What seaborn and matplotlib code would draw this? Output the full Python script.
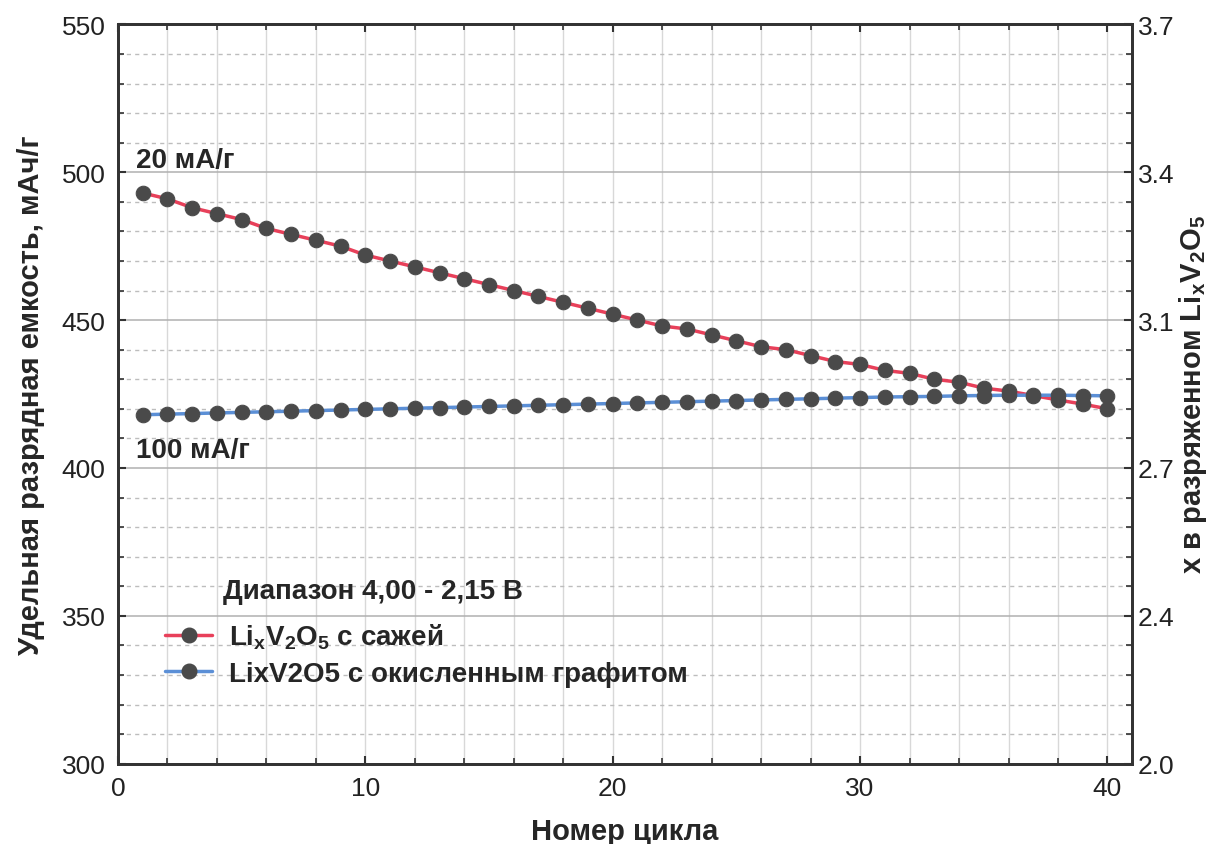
import numpy as np
import pandas as pd
import matplotlib
matplotlib.use("Agg")
import matplotlib.pyplot as plt
import seaborn as sns
from matplotlib.ticker import MultipleLocator, FixedLocator

# data
cycles = list(range(1, 41))
soot = [493, 491, 488, 486, 484, 481, 479, 477, 475, 472,
        470, 468, 466, 464, 462, 460, 458, 456, 454, 452,
        450, 448, 447, 445, 443, 441, 440, 438, 436, 435,
        433, 432, 430, 429, 427, 426, 424.5, 423, 421.6, 420]
graphite = [418.0, 418.2, 418.4, 418.6, 418.8, 419.0, 419.2, 419.4, 419.6, 419.8,
            420.0, 420.2, 420.4, 420.6, 420.8, 421.0, 421.2, 421.4, 421.6, 421.8,
            422.0, 422.2, 422.4, 422.6, 422.8, 423.0, 423.2, 423.4, 423.6, 423.8,
            424.0, 424.1, 424.2, 424.4, 424.5, 424.6, 424.6, 424.6, 424.5, 424.4]
right_ticks = [300, 350, 400, 450, 500, 550]
right_labels = ["2.0", "2.4", "2.7", "3.1", "3.4", "3.7"]

lbl_soot = r"$\mathbf{Li_xV_2O_5}$ с сажей"
lbl_graph = "LixV2O5 с окисленным графитом"

df = pd.DataFrame({
    "cycle": cycles * 2,
    "cap": soot + graphite,
    "series": [lbl_soot] * 40 + [lbl_graph] * 40,
})

sns.set_style("ticks")
plt.rcParams["font.family"] = ["Liberation Sans", "DejaVu Sans"]
plt.rcParams["mathtext.fontset"] = "custom"
plt.rcParams["mathtext.rm"] = "Liberation Sans"
plt.rcParams["mathtext.bf"] = "Liberation Sans:bold"
plt.rcParams["mathtext.it"] = "Liberation Sans:italic"

fig, ax = plt.subplots(figsize=(12.28, 8.45), dpi=100)
fig.subplots_adjust(left=0.096, right=0.922, top=0.970, bottom=0.095)

red, blue, dot = "#e8405a", "#5b8fd6", "#4a4a4a"
sns.lineplot(data=df, x="cycle", y="cap", hue="series",
             palette=[red, blue], marker="o", markersize=10.5,
             markerfacecolor=dot, markeredgecolor=dot,
             linewidth=2.5, ax=ax, legend=False, zorder=3)

ax.set_xlim(0, 41)
ax.set_ylim(300, 550)
ax.xaxis.set_major_locator(MultipleLocator(10))
ax.xaxis.set_minor_locator(MultipleLocator(2))
ax.yaxis.set_major_locator(MultipleLocator(50))
ax.yaxis.set_minor_locator(MultipleLocator(10))
ax.grid(which="major", axis="y", color="#b0b0b0", lw=1.1, ls="-")
ax.grid(which="minor", axis="y", color="#bdbdbd", lw=1.0, ls=(0, (3, 3)))
ax.grid(which="both", axis="x", color="#d8d8d8", lw=1.0, ls="-")
ax.tick_params(which="both", direction="in", top=True, labelsize=19,
               colors="#333333", labelcolor="#222222")
ax.tick_params(which="major", length=6, width=1.5, pad=9)
ax.tick_params(which="minor", length=4, width=1.2)
for s in ax.spines.values():
    s.set_color("#333333")
    s.set_linewidth(2)

ax.set_xlabel("Номер цикла", fontsize=21, fontweight="bold", labelpad=12)
ax.set_ylabel("Удельная разрядная емкость, мАч/г", fontsize=21,
              fontweight="bold", labelpad=12)

ax2 = ax.twinx()
ax2.set_ylim(300, 550)
ax2.yaxis.set_major_locator(FixedLocator(right_ticks))
ax2.set_yticklabels(right_labels)
ax2.yaxis.set_minor_locator(MultipleLocator(10))
ax2.tick_params(which="both", direction="in", labelsize=19,
                colors="#333333", labelcolor="#222222")
ax2.tick_params(which="major", length=6, width=1.5, pad=4)
ax2.tick_params(which="minor", length=4, width=1.2)
for s in ax2.spines.values():
    s.set_color("#333333")
    s.set_linewidth(2)
ax2.set_ylabel(r"x в разряженном $\mathbf{Li_xV_2O_5}$", fontsize=21,
               fontweight="bold", labelpad=2)

ax.text(0.75, 504, "20 мА/г", fontsize=20, fontweight="bold", va="center")
ax.text(0.75, 406, "100 мА/г", fontsize=20, fontweight="bold", va="center")

ax.text(4.25, 358.4, "Диапазон 4,00 - 2,15 В", fontsize=20, fontweight="bold",
        va="center")
handles = [
    plt.Line2D([], [], color=red, lw=2.5, marker="o", markersize=10.5,
               markerfacecolor=dot, markeredgecolor=dot),
    plt.Line2D([], [], color=blue, lw=2.5, marker="o", markersize=10.5,
               markerfacecolor=dot, markeredgecolor=dot),
]
leg = ax.legend(handles, [lbl_soot, lbl_graph], loc="upper left",
                bbox_to_anchor=(0.022, 0.226), frameon=False, fontsize=20,
                handlelength=1.7, handletextpad=0.6, labelspacing=0.35)
for t in leg.get_texts():
    t.set_fontweight("bold")

fig.savefig("out.png", dpi=100)
